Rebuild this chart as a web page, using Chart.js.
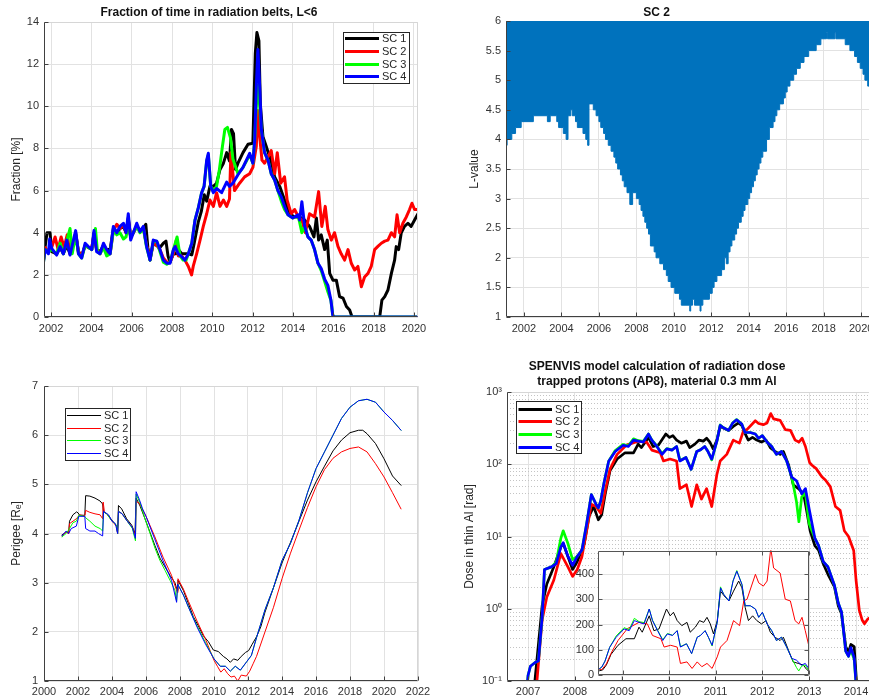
<!DOCTYPE html>
<html><head><meta charset="utf-8">
<script src="https://cdn.jsdelivr.net/npm/chart.js@4.4.1/dist/chart.umd.min.js"></script>
<style>
html,body{margin:0;padding:0;background:#fff;overflow:hidden;width:869px;height:699px;position:relative;}
canvas{position:absolute;}
</style></head><body>
<canvas id="c1" width="462" height="345" style="left:0;top:0"></canvas>
<canvas id="c2" width="514" height="345" style="left:435px;top:0"></canvas>
<canvas id="c3" width="435" height="354" style="left:0;top:345px"></canvas>
<canvas id="c4" width="516" height="354" style="left:435px;top:345px"></canvas>
<canvas id="c5" width="260" height="150" style="left:560px;top:540px"></canvas>
<script>
// ---------------- DATA ----------------
const scLabels = ['SC 1','SC 2','SC 3','SC 4'];

// Top-left: fraction of time in radiation belts, L<6  [year, %]
const fracYearTicks = [2002,2004,2006,2008,2010,2012,2014,2016,2018,2020];
const fracValueTicks = [0,2,4,6,8,10,12,14];
const fracSC1 = [[2001.6,2.5],[2001.7,3.3],[2001.8,4.0],[2001.95,4.0],[2002.03,3.1],[2002.28,3.0],[2002.45,3.3],[2002.61,3.0],[2002.78,3.4],[2002.94,3.0],[2003.11,3.5],[2003.22,4.0],[2003.36,3.1],[2003.52,2.9],[2003.69,3.4],[2003.85,3.3],[2004.02,3.2],[2004.13,4.0],[2004.26,3.2],[2004.43,3.1],[2004.6,3.4],[2004.76,3.2],[2004.93,3.2],[2005.09,4.2],[2005.26,4.0],[2005.42,4.2],[2005.59,4.3],[2005.72,4.0],[2005.83,4.7],[2005.95,3.8],[2006.08,4.0],[2006.25,4.3],[2006.41,4.1],[2006.58,4.2],[2006.7,4.4],[2006.8,3.3],[2006.91,2.7],[2007.07,3.5],[2007.24,3.4],[2007.4,3.3],[2007.57,3.5],[2007.7,3.6],[2007.8,2.9],[2007.9,2.6],[2008.07,3.0],[2008.2,3.0],[2008.31,3.2],[2008.48,3.0],[2008.64,3.0],[2008.81,3.0],[2008.98,2.95],[2009.1,3.5],[2009.2,4.0],[2009.3,4.5],[2009.45,5.0],[2009.6,5.8],[2009.72,5.5],[2009.88,6.2],[2010.05,6.2],[2010.21,6.35],[2010.38,7.0],[2010.55,7.3],[2010.71,7.8],[2010.85,7.4],[2010.95,8.9],[2011.05,8.7],[2011.15,7.0],[2011.27,7.3],[2011.52,7.8],[2011.77,8.2],[2012.01,8.25],[2012.13,12.5],[2012.21,13.5],[2012.31,13.1],[2012.38,10.1],[2012.51,8.55],[2012.67,8.1],[2012.84,7.6],[2013.09,6.65],[2013.34,6.2],[2013.58,5.55],[2013.83,4.9],[2014.08,4.75],[2014.33,4.75],[2014.58,4.6],[2014.82,4.3],[2015.04,3.8],[2015.16,4.7],[2015.27,3.65],[2015.4,3.9],[2015.57,3.2],[2015.7,3.65],[2015.82,2.07],[2015.98,1.75],[2016.15,1.75],[2016.31,0.97],[2016.48,0.9],[2016.65,0.5],[2016.81,0.33],[2016.93,0],[2018.3,0],[2018.41,0.8],[2018.55,0.97],[2018.71,1.28],[2018.88,2.07],[2019.04,2.7],[2019.12,3.34],[2019.24,3.2],[2019.37,4.0],[2019.53,4.3],[2019.7,4.45],[2019.86,4.3],[2020.03,4.6],[2020.2,4.9]];
const fracSC2 = [[2001.6,2.5],[2001.7,3.3],[2001.87,3.1],[2002.03,3.3],[2002.2,3.8],[2002.35,3.2],[2002.5,3.8],[2002.65,3.3],[2002.8,3.9],[2002.94,3.0],[2003.11,3.5],[2003.22,3.9],[2003.36,3.1],[2003.52,2.9],[2003.69,3.4],[2003.85,3.3],[2004.02,3.3],[2004.13,3.9],[2004.26,3.2],[2004.43,3.0],[2004.6,3.4],[2004.76,3.1],[2004.93,3.0],[2005.09,4.1],[2005.26,4.4],[2005.42,4.2],[2005.59,4.4],[2005.72,4.0],[2005.83,4.6],[2005.95,3.8],[2006.08,4.0],[2006.25,4.3],[2006.41,4.1],[2006.58,4.2],[2006.74,3.4],[2006.91,2.8],[2007.07,3.5],[2007.24,3.4],[2007.4,3.2],[2007.57,2.8],[2007.74,2.6],[2007.9,2.6],[2008.07,3.0],[2008.2,3.6],[2008.31,2.9],[2008.48,2.9],[2008.64,2.7],[2008.81,2.4],[2008.97,2.0],[2009.05,2.4],[2009.22,3.0],[2009.39,3.65],[2009.55,4.3],[2009.72,4.9],[2009.88,5.55],[2010.05,5.25],[2010.21,5.9],[2010.38,5.25],[2010.55,5.55],[2010.71,5.25],[2010.85,5.6],[2010.92,7.8],[2011.1,6.0],[2011.35,6.35],[2011.6,6.65],[2011.85,6.8],[2012.01,7.1],[2012.18,8.1],[2012.26,9.8],[2012.35,8.55],[2012.46,7.45],[2012.59,7.3],[2012.76,7.6],[2012.92,7.9],[2013.09,6.8],[2013.22,7.8],[2013.39,6.35],[2013.58,6.65],[2013.71,5.55],[2013.91,4.9],[2014.08,5.1],[2014.27,4.75],[2014.44,4.6],[2014.61,4.0],[2014.82,4.9],[2015.07,4.75],[2015.27,5.95],[2015.43,4.3],[2015.6,5.25],[2015.73,4.15],[2015.9,3.65],[2016.06,4.0],[2016.23,3.35],[2016.39,3.0],[2016.56,2.7],[2016.73,3.2],[2016.89,2.55],[2017.06,2.23],[2017.22,2.4],[2017.39,1.44],[2017.55,1.9],[2017.72,2.07],[2017.88,2.4],[2018.05,3.2],[2018.21,3.35],[2018.38,3.5],[2018.55,3.6],[2018.71,3.65],[2018.88,4.0],[2019.04,3.8],[2019.16,4.85],[2019.29,4.0],[2019.45,4.45],[2019.62,4.75],[2019.78,5.1],[2019.9,5.4],[2020.03,5.1],[2020.2,5.1]];
const fracSC3 = [[2001.6,2.4],[2001.7,3.2],[2001.87,3.1],[2002.03,3.2],[2002.28,3.0],[2002.45,3.5],[2002.61,3.0],[2002.78,3.6],[2002.94,4.2],[2003.05,3.0],[2003.22,3.9],[2003.36,3.0],[2003.52,2.8],[2003.69,3.4],[2003.85,3.3],[2004.02,3.2],[2004.2,4.2],[2004.3,3.1],[2004.43,3.0],[2004.6,3.3],[2004.76,2.9],[2004.93,3.0],[2005.09,4.1],[2005.26,3.9],[2005.42,4.0],[2005.59,3.7],[2005.72,3.8],[2005.83,4.4],[2005.95,3.8],[2006.08,4.0],[2006.25,4.3],[2006.41,4.0],[2006.58,4.2],[2006.74,3.3],[2006.91,2.7],[2007.07,3.6],[2007.24,3.6],[2007.4,3.1],[2007.57,2.6],[2007.74,2.5],[2007.9,2.6],[2008.07,3.2],[2008.25,3.8],[2008.4,2.9],[2008.55,2.7],[2008.7,2.7],[2008.81,3.0],[2008.98,3.5],[2009.14,4.6],[2009.31,5.2],[2009.47,5.9],[2009.59,6.2],[2009.72,7.4],[2009.8,7.7],[2009.92,6.2],[2010.05,6.0],[2010.21,6.2],[2010.35,7.0],[2010.5,8.1],[2010.62,8.9],[2010.75,9.0],[2010.9,8.5],[2011.02,7.5],[2011.27,6.8],[2011.52,7.1],[2011.69,7.4],[2011.85,7.7],[2012.01,7.3],[2012.1,8.4],[2012.18,10.0],[2012.26,11.0],[2012.35,10.0],[2012.43,8.9],[2012.59,7.8],[2012.76,7.45],[2012.92,6.8],[2013.09,6.5],[2013.25,6.0],[2013.42,5.5],[2013.58,5.1],[2013.75,4.85],[2013.99,4.7],[2014.25,4.8],[2014.33,4.5],[2014.44,4.0],[2014.58,4.3],[2014.74,3.8],[2014.9,3.65],[2015.07,3.2],[2015.24,2.55],[2015.4,2.2],[2015.57,1.7],[2015.73,1.2],[2015.88,0.8],[2015.97,0.1],[2016.03,0],[2020.2,0]];
const fracSC4 = [[2001.6,2.4],[2001.7,3.2],[2001.87,3.0],[2001.93,3.7],[2002.03,3.26],[2002.28,2.94],[2002.45,3.34],[2002.61,3.0],[2002.78,3.65],[2002.94,2.94],[2003.11,3.65],[2003.22,4.1],[2003.36,3.0],[2003.52,2.8],[2003.69,3.5],[2003.85,3.34],[2004.02,3.2],[2004.13,4.1],[2004.26,3.1],[2004.43,3.0],[2004.6,3.5],[2004.76,3.2],[2004.93,3.0],[2005.09,4.3],[2005.26,4.0],[2005.42,4.3],[2005.59,4.45],[2005.72,4.0],[2005.83,4.9],[2005.95,3.65],[2006.08,4.0],[2006.25,4.45],[2006.41,4.05],[2006.58,4.3],[2006.74,3.34],[2006.91,2.7],[2007.07,3.65],[2007.24,3.6],[2007.4,3.2],[2007.57,2.7],[2007.74,2.55],[2007.9,2.55],[2008.07,3.2],[2008.15,3.34],[2008.31,3.0],[2008.48,2.86],[2008.64,2.7],[2008.81,3.0],[2008.98,3.5],[2009.14,4.6],[2009.31,5.2],[2009.47,5.9],[2009.59,6.2],[2009.72,7.45],[2009.8,7.77],[2009.92,6.2],[2010.05,5.9],[2010.21,6.1],[2010.46,5.9],[2010.71,6.4],[2010.85,6.2],[2011.02,6.35],[2011.27,6.75],[2011.52,7.1],[2011.69,7.45],[2011.85,7.77],[2012.01,7.3],[2012.1,8.4],[2012.18,10.9],[2012.26,12.7],[2012.35,10.9],[2012.43,8.9],[2012.59,7.8],[2012.76,7.45],[2012.92,6.8],[2013.09,6.5],[2013.25,6.0],[2013.42,5.7],[2013.58,5.25],[2013.75,4.85],[2013.99,4.7],[2014.25,4.85],[2014.33,4.6],[2014.44,5.47],[2014.58,4.3],[2014.74,3.8],[2014.9,3.65],[2015.07,3.2],[2015.24,2.55],[2015.4,2.3],[2015.57,1.8],[2015.73,1.5],[2015.88,0.8],[2015.97,0.1],[2016.03,0],[2020.2,0]];

// Top-right: SC 2 lowest L-value reached  [year, L]
const lvalYearTicks = [2002,2004,2006,2008,2010,2012,2014,2016,2018,2020];
const lvalTicks = [1,1.5,2,2.5,3,3.5,4,4.5,5,5.5,6];
const lvalTickLabels = ['1','1.5','2','2.5','3','3.5','4','4.5','5','5.5','6'];
const sc2MinL = [[2001.0,3.9],[2001.1,4.0],[2001.35,4.1],[2001.55,4.2],[2001.85,4.3],[2002.5,4.4],[2003.25,4.3],[2003.4,4.4],[2003.75,4.3],[2003.85,4.2],[2004.1,4.1],[2004.25,4.0],[2004.35,4.4],[2004.5,4.5],[2004.58,4.4],[2004.75,4.3],[2004.85,4.2],[2005.15,4.1],[2005.3,4.0],[2005.4,3.9],[2005.47,4.6],[2005.7,4.5],[2005.85,4.4],[2006.0,4.3],[2006.1,4.2],[2006.25,4.1],[2006.35,4.0],[2006.5,3.9],[2006.65,3.8],[2006.8,3.7],[2006.9,3.6],[2007.0,3.5],[2007.15,3.4],[2007.25,3.3],[2007.35,3.2],[2007.5,3.1],[2007.65,2.9],[2007.8,3.1],[2008.0,3.0],[2008.15,2.9],[2008.25,2.8],[2008.35,2.7],[2008.45,2.6],[2008.55,2.5],[2008.65,2.4],[2008.75,2.2],[2008.95,2.1],[2009.05,2.0],[2009.25,1.9],[2009.45,1.8],[2009.6,1.7],[2009.7,1.6],[2009.85,1.5],[2010.05,1.4],[2010.3,1.3],[2010.4,1.2],[2010.85,1.1],[2010.9,1.2],[2011.0,1.3],[2011.1,1.2],[2011.4,1.1],[2011.45,1.2],[2011.55,1.3],[2011.9,1.4],[2012.05,1.5],[2012.15,1.6],[2012.3,1.7],[2012.55,1.8],[2012.7,2.0],[2012.8,1.9],[2012.9,2.1],[2013.0,2.2],[2013.1,2.3],[2013.25,2.4],[2013.35,2.5],[2013.45,2.6],[2013.6,2.7],[2013.7,2.8],[2013.8,2.9],[2013.95,3.0],[2014.05,3.1],[2014.15,3.2],[2014.25,3.3],[2014.35,3.4],[2014.45,3.5],[2014.55,3.6],[2014.65,3.7],[2014.75,3.8],[2014.95,4.0],[2015.1,4.2],[2015.3,4.3],[2015.4,4.4],[2015.5,4.5],[2015.65,4.6],[2015.85,4.7],[2015.95,4.8],[2016.05,4.9],[2016.2,5.0],[2016.4,5.1],[2016.55,5.2],[2016.75,5.3],[2016.95,5.4],[2017.2,5.5],[2017.6,5.6],[2017.85,5.7],[2018.15,5.8],[2018.2,5.7],[2018.6,5.8],[2018.65,5.7],[2019.15,5.6],[2019.4,5.5],[2019.65,5.4],[2019.8,5.3],[2019.95,5.2],[2020.1,5.1],[2020.2,5.0],[2020.35,4.9],[2020.5,4.8],[2020.7,4.7],[2020.95,4.6]];

// Bottom-left: perigee [year, Re]
const perYearTicks = [2000,2002,2004,2006,2008,2010,2012,2014,2016,2018,2020,2022];
const perTicks = [1,2,3,4,5,6,7];
const perSC1 = [[2001.05,3.97],[2001.33,4.03],[2001.45,4.0],[2001.5,4.25],[2001.7,4.38],[2001.92,4.44],[2002.0,4.42],[2002.1,4.37],[2002.4,4.37],[2002.45,4.77],[2002.7,4.76],[2003.0,4.72],[2003.3,4.66],[2003.45,4.6],[2003.5,4.44],[2003.7,4.4],[2004.0,4.27],[2004.27,4.15],[2004.33,4.0],[2004.38,4.57],[2004.57,4.5],[2004.86,4.3],[2005.16,4.17],[2005.35,4.0],[2005.42,4.72],[2005.65,4.56],[2005.94,4.3],[2006.24,4.02],[2006.53,3.75],[2006.82,3.5],[2007.12,3.32],[2007.41,3.15],[2007.7,3.0],[2007.84,2.84],[2007.88,3.05],[2008.2,2.84],[2008.49,2.58],[2008.78,2.31],[2009.08,2.12],[2009.37,1.92],[2009.67,1.8],[2009.96,1.63],[2010.25,1.6],[2010.55,1.5],[2010.76,1.45],[2010.96,1.38],[2011.15,1.45],[2011.4,1.42],[2011.6,1.5],[2011.85,1.58],[2012.04,1.62],[2012.25,1.75],[2012.5,1.9],[2012.75,2.1],[2013.0,2.4],[2013.5,2.9],[2014.0,3.4],[2014.5,3.82],[2015.0,4.25],[2015.5,4.68],[2016.0,5.05],[2016.5,5.37],[2017.0,5.68],[2017.5,5.9],[2018.0,6.05],[2018.5,6.1],[2018.75,6.1],[2019.0,6.03],[2019.5,5.83],[2020.0,5.52],[2020.5,5.17],[2021.0,4.98]];
const perSC2 = [[2001.05,3.95],[2001.3,4.03],[2001.45,4.0],[2001.5,4.2],[2001.9,4.3],[2002.1,4.38],[2002.4,4.36],[2002.45,4.47],[2002.7,4.43],[2003.0,4.4],[2003.3,4.38],[2003.45,4.3],[2003.48,4.64],[2003.55,4.45],[2003.7,4.4],[2004.0,4.25],[2004.27,4.15],[2004.33,4.0],[2004.38,4.45],[2004.6,4.4],[2004.9,4.25],[2005.2,4.12],[2005.38,3.95],[2005.42,4.65],[2005.6,4.62],[2006.0,4.35],[2006.5,3.95],[2007.0,3.52],[2007.5,3.15],[2007.84,2.8],[2007.88,3.08],[2008.2,2.87],[2008.5,2.62],[2009.0,2.22],[2009.5,1.85],[2010.0,1.42],[2010.2,1.3],[2010.4,1.18],[2010.6,1.25],[2010.8,1.15],[2011.0,1.08],[2011.2,1.1],[2011.4,1.0],[2011.6,1.12],[2011.9,1.1],[2012.1,1.2],[2012.3,1.35],[2012.5,1.5],[2013.0,2.0],[2013.5,2.5],[2014.0,3.08],[2014.5,3.6],[2015.0,4.07],[2015.5,4.53],[2016.0,4.95],[2016.5,5.3],[2017.0,5.53],[2017.5,5.66],[2018.0,5.73],[2018.5,5.76],[2019.0,5.66],[2019.5,5.42],[2020.0,5.15],[2020.5,4.83],[2021.0,4.5]];
const perSC3 = [[2001.05,3.93],[2001.3,4.0],[2001.5,4.1],[2001.7,4.22],[2001.9,4.25],[2002.05,4.37],[2002.4,4.35],[2002.45,4.32],[2002.7,4.25],[2003.0,4.15],[2003.3,4.1],[2003.45,4.05],[2003.5,4.44],[2003.7,4.4],[2004.0,4.25],[2004.27,4.17],[2004.33,4.0],[2004.38,4.45],[2004.6,4.4],[2004.9,4.25],[2005.2,4.1],[2005.38,3.85],[2005.42,4.8],[2005.65,4.62],[2005.94,4.3],[2006.24,4.0],[2006.53,3.7],[2006.82,3.45],[2007.12,3.25],[2007.41,3.05],[2007.7,2.85],[2007.8,2.62],[2007.86,2.97],[2008.2,2.75],[2008.5,2.5],[2009.0,2.12],[2009.5,1.78],[2010.0,1.45],[2010.37,1.3],[2010.67,1.3],[2010.96,1.2],[2011.25,1.3],[2011.55,1.22],[2011.94,1.4],[2012.2,1.52],[2012.5,1.88],[2013.0,2.45],[2013.5,2.9],[2014.0,3.45],[2014.5,3.8],[2015.0,4.27],[2015.5,4.83],[2016.0,5.32],[2016.5,5.66],[2017.0,6.0],[2017.5,6.34],[2018.0,6.57],[2018.5,6.7],[2019.0,6.73],[2019.5,6.67],[2020.0,6.47],[2020.5,6.3],[2021.0,6.1]];
const perSC4 = [[2001.05,3.95],[2001.3,4.05],[2001.45,4.0],[2001.6,4.1],[2001.9,4.15],[2002.05,4.35],[2002.4,4.35],[2002.45,4.1],[2002.7,4.05],[2003.0,4.05],[2003.2,4.0],[2003.45,3.95],[2003.5,4.45],[2003.8,4.38],[2004.0,4.25],[2004.2,4.2],[2004.33,4.0],[2004.38,4.45],[2004.6,4.4],[2004.9,4.25],[2005.2,4.12],[2005.38,3.9],[2005.42,4.85],[2005.6,4.7],[2005.8,4.5],[2006.0,4.35],[2006.5,3.9],[2007.0,3.45],[2007.5,3.05],[2007.8,2.6],[2007.86,2.97],[2008.2,2.75],[2008.5,2.5],[2009.0,2.1],[2009.5,1.75],[2010.0,1.45],[2010.37,1.3],[2010.67,1.3],[2010.96,1.2],[2011.25,1.3],[2011.55,1.22],[2011.94,1.4],[2012.2,1.52],[2012.5,1.88],[2013.0,2.45],[2013.5,2.9],[2014.0,3.45],[2014.5,3.8],[2015.0,4.27],[2015.5,4.83],[2016.0,5.32],[2016.5,5.66],[2017.0,6.0],[2017.5,6.34],[2018.0,6.57],[2018.5,6.7],[2019.0,6.73],[2019.5,6.67],[2020.0,6.47],[2020.5,6.3],[2021.0,6.1]];

// Bottom-right: SPENVIS dose [year, rad]
const doseYearTicks = [2007,2008,2009,2010,2011,2012,2013,2014];
const doseTicks = [0.1,1,10,100,1000];
const doseTickLabels = ['10\u207B\u00B9','10\u2070','10\u00B9','10\u00B2','10\u00B3'];
const insetTicks = [0,100,200,300,400];
const insetYearTicks = [2009,2010,2011,2012,2013];
const doseSC1 = [[2007.1,0.05],[2007.3,1.1],[2007.4,2.2],[2007.55,3.8],[2007.7,7.2],[2007.75,8.0],[2007.85,5.3],[2007.95,3.5],[2008.05,4.5],[2008.2,8],[2008.3,19],[2008.4,26],[2008.5,17],[2008.57,20],[2008.65,40],[2008.75,82],[2008.9,118],[2009.07,144],[2009.25,144],[2009.35,190],[2009.42,170],[2009.57,235],[2009.67,176],[2009.78,183],[2009.94,262],[2010.02,235],[2010.09,249],[2010.17,216],[2010.27,196],[2010.38,209],[2010.45,170],[2010.56,190],[2010.65,216],[2010.74,209],[2010.81,229],[2010.88,203],[2010.95,163],[2011.03,216],[2011.1,333],[2011.18,314],[2011.28,294],[2011.38,333],[2011.49,373],[2011.56,346],[2011.63,268],[2011.7,216],[2011.79,235],[2011.88,216],[2011.98,203],[2012.08,216],[2012.17,170],[2012.27,150],[2012.38,137],[2012.45,150],[2012.56,98],[2012.66,52],[2012.77,46],[2012.88,39],[2012.95,22],[2013.02,12],[2013.12,7.5],[2013.2,6.5],[2013.3,4.2],[2013.4,3.0],[2013.54,2.0],[2013.62,1.1],[2013.69,0.85],[2013.78,0.3],[2013.84,0.25],[2013.89,0.32],[2013.96,0.3],[2014.04,0.05]];
const doseSC2 = [[2007.15,0.05],[2007.3,0.7],[2007.4,1.45],[2007.55,2.5],[2007.7,5.8],[2007.85,3.8],[2007.95,2.8],[2008.05,3.5],[2008.15,5.3],[2008.25,12],[2008.35,28],[2008.45,26],[2008.55,21],[2008.65,44],[2008.75,86],[2008.9,137],[2009.1,184],[2009.35,209],[2009.53,203],[2009.64,157],[2009.82,144],[2009.89,111],[2010.03,118],[2010.17,111],[2010.24,46],[2010.38,52],[2010.49,26],[2010.6,52],[2010.7,33],[2010.81,46],[2010.92,26],[2011.03,72],[2011.1,111],[2011.24,137],[2011.38,216],[2011.51,196],[2011.6,294],[2011.67,301],[2011.85,400],[2011.92,366],[2012.02,353],[2012.1,373],[2012.18,503],[2012.24,425],[2012.38,405],[2012.49,301],[2012.6,294],[2012.7,216],[2012.78,203],[2012.85,229],[2012.92,176],[2013.01,105],[2013.06,97],[2013.15,87],[2013.27,67],[2013.35,60],[2013.45,49],[2013.56,26],[2013.66,23],[2013.75,12],[2013.84,10],[2013.95,6.4],[2014.0,2.5],[2014.07,0.95],[2014.13,0.7],[2014.18,0.62],[2014.25,0.72],[2014.35,0.8]];
const doseSC3 = [[2006.95,0.05],[2007.0,0.12],[2007.05,0.16],[2007.15,0.18],[2007.22,0.19],[2007.3,0.77],[2007.35,3.5],[2007.5,3.8],[2007.6,4.4],[2007.7,9.5],[2007.75,12],[2007.85,8],[2007.95,4.8],[2008.05,5.3],[2008.15,6.5],[2008.25,15],[2008.35,38],[2008.45,28],[2008.5,25],[2008.55,31],[2008.62,55],[2008.72,110],[2008.86,155],[2009.03,188],[2009.14,180],[2009.25,225],[2009.35,212],[2009.46,208],[2009.57,262],[2009.64,218],[2009.75,178],[2009.86,140],[2009.96,165],[2010.07,158],[2010.17,176],[2010.24,113],[2010.37,124],[2010.48,85],[2010.6,150],[2010.67,157],[2010.77,176],[2010.84,150],[2010.92,115],[2011.03,209],[2011.1,350],[2011.17,320],[2011.28,294],[2011.37,375],[2011.45,415],[2011.56,360],[2011.63,275],[2011.74,275],[2011.85,262],[2011.92,229],[2012.0,249],[2012.1,203],[2012.2,176],[2012.3,137],[2012.41,150],[2012.52,111],[2012.63,66],[2012.73,30],[2012.78,16],[2012.84,35],[2012.92,40],[2013.0,15],[2013.12,9.5],[2013.2,7.5],[2013.3,4.5],[2013.4,3.8],[2013.54,2.1],[2013.62,1.2],[2013.69,0.9],[2013.78,0.26],[2013.84,0.22],[2013.89,0.27],[2013.96,0.2],[2014.03,0.05]];
const doseSC4 = [[2006.95,0.05],[2007.0,0.12],[2007.05,0.16],[2007.15,0.18],[2007.22,0.19],[2007.3,0.77],[2007.35,3.5],[2007.5,3.8],[2007.6,4.2],[2007.7,7.2],[2007.75,8.2],[2007.85,5.3],[2007.95,4.0],[2008.05,5.3],[2008.15,6.5],[2008.25,15],[2008.35,38],[2008.45,28],[2008.5,25],[2008.55,31],[2008.62,55],[2008.72,110],[2008.86,150],[2009.03,183],[2009.14,176],[2009.25,216],[2009.35,209],[2009.46,203],[2009.57,262],[2009.64,216],[2009.75,176],[2009.86,137],[2009.96,163],[2010.07,157],[2010.17,176],[2010.24,111],[2010.37,124],[2010.48,85],[2010.6,150],[2010.67,157],[2010.77,176],[2010.84,150],[2010.92,118],[2011.03,209],[2011.1,346],[2011.17,320],[2011.28,294],[2011.37,373],[2011.45,412],[2011.56,360],[2011.63,275],[2011.74,275],[2011.85,262],[2011.92,229],[2012.0,249],[2012.1,203],[2012.2,176],[2012.3,137],[2012.41,150],[2012.52,111],[2012.63,66],[2012.73,59],[2012.84,39],[2012.92,46],[2013.0,24],[2013.12,9.5],[2013.2,7.5],[2013.3,4.5],[2013.4,3.8],[2013.54,2.1],[2013.62,1.2],[2013.69,0.9],[2013.78,0.26],[2013.84,0.22],[2013.89,0.29],[2013.96,0.21],[2014.03,0.05]];

// ---------------- STYLE / HELPERS ----------------
const scColors = ['#000000','#ff0000','#00ff00','#0000ff'];
const FONT = "'Liberation Sans', Arial, Helvetica, sans-serif";
const GRID = '#e2e2e2';
const AXIS = '#404040';
Chart.defaults.font.family = FONT;
Chart.defaults.font.size = 11;
Chart.defaults.color = '#333333';

const toXY = a => a.map(p => ({x: p[0], y: p[1]}));
function lineSets(series, width) {
  return series.map((s, i) => ({
    label: scLabels[i], data: toXY(s), borderColor: scColors[i], backgroundColor: scColors[i],
    borderWidth: width, pointRadius: 0, tension: 0, fill: false, order: 4 - i,
    borderJoinStyle: 'round', borderCapStyle: 'round'
  }));
}
function xAxis(min, max, ticks, pad, h, show) {
  return { type: 'linear', min, max,
    afterBuildTicks: s => { s.ticks = ticks.map(v => ({value: v})); },
    afterFit: s => { s.height = h; },
    ticks: { display: show !== false, padding: pad, autoSkip: false, maxRotation: 0, callback: v => String(v), font: {size: 11} },
    grid: { color: GRID, drawTicks: false }, border: { display: false } };
}
function yAxis(o) {
  return { type: o.type || 'linear', min: o.min, max: o.max,
    afterBuildTicks: s => { s.ticks = o.ticks.map(v => ({value: v})); },
    afterFit: s => { s.width = o.w; },
    ticks: { padding: o.pad, autoSkip: false, callback: (v, i) => o.labels ? o.labels[i] : String(v), font: {size: o.fs || 11} },
    grid: { color: GRID, drawTicks: false }, border: { display: false },
    title: { display: !!o.title, text: o.title, font: {size: 12}, color: '#262626', padding: {top: o.tpad || 0, bottom: 0} } };
}
const framePlugin = {
  id: 'frame',
  beforeDraw(chart, args, o) {
    if (o && o.bg) { const a = chart.chartArea, c = chart.ctx; c.save(); c.fillStyle = o.bg; c.fillRect(a.left, a.top, a.right - a.left, a.bottom - a.top); c.restore(); }
  },
  afterDatasetsDraw(chart, args, o) {
    const c = chart.ctx, a = chart.chartArea, xs = chart.scales.x, ys = chart.scales.y;
    const L = Math.round(a.left) + 0.5, R = Math.round(a.right) - 0.5, T = Math.round(a.top) + 0.5, B = Math.round(a.bottom) - 0.5;
    c.save(); c.lineWidth = 1;
    if (!o.box && !o.noEdge) { c.strokeStyle = '#d6d6d6'; c.beginPath(); c.moveTo(L, T); c.lineTo(R, T); c.lineTo(R, B); c.stroke(); }
    c.strokeStyle = o.box ? '#555555' : AXIS; c.beginPath();
    if (o.box) { c.rect(L, T, R - L, B - T); } else { c.moveTo(L, T); c.lineTo(L, B); c.lineTo(R, B); }
    const tl = 4;
    xs.ticks.forEach(t => { const p = Math.round(xs.getPixelForValue(t.value)) + 0.5; if (p < a.left - 1 || p > a.right + 1) return; c.moveTo(p, B); c.lineTo(p, B - tl); if (o.box) { c.moveTo(p, T); c.lineTo(p, T + tl); } });
    ys.ticks.forEach(t => { const p = Math.round(ys.getPixelForValue(t.value)) + 0.5; c.moveTo(L, p); c.lineTo(L + tl, p); if (o.box) { c.moveTo(R, p); c.lineTo(R - tl, p); } });
    c.stroke(); c.restore();
  }
};
const legendPlugin = {
  id: 'boxLegend',
  afterDraw(chart, args, o) {
    if (!o || !o.box) return;
    const c = chart.ctx, [x, y, w, h] = o.box;
    c.save();
    c.fillStyle = '#ffffff'; c.fillRect(x, y, w, h);
    c.strokeStyle = '#262626'; c.lineWidth = 1; c.strokeRect(x + 0.5, y + 0.5, w, h);
    chart.data.datasets.forEach((ds, i) => {
      const yy = Math.round(y + o.first + i * o.step) + 0.5;
      c.strokeStyle = ds.borderColor; c.lineWidth = o.lw; c.lineCap = 'butt';
      c.beginPath(); c.moveTo(x + o.l0, yy); c.lineTo(x + o.l1, yy); c.stroke();
      c.fillStyle = '#262626'; c.font = '11px ' + FONT; c.textBaseline = 'middle'; c.textAlign = 'left';
      c.fillText(ds.label, x + o.tx, yy);
    });
    c.restore();
  }
};
const logMinorPlugin = {
  id: 'logMinor',
  beforeDatasetsDraw(chart, args, o) {
    if (!o || !o.on) return;
    const ys = chart.scales.y, a = chart.chartArea, c = chart.ctx;
    c.save(); c.strokeStyle = '#c4c4c4'; c.lineWidth = 1; c.setLineDash([1, 2]); c.beginPath();
    for (let k = -1; k < 3; k++) for (let m = 2; m < 10; m++) {
      const p = Math.round(ys.getPixelForValue(m * Math.pow(10, k))) + 0.5;
      c.moveTo(a.left, p); c.lineTo(a.right, p);
    }
    c.stroke(); c.restore();
  }
};
const basePlugins = (extra) => Object.assign({ legend: {display: false}, tooltip: {enabled: false} }, extra);
const allPlugins = [framePlugin, legendPlugin, logMinorPlugin];

// ---------------- CHART 1: fraction ----------------
new Chart(document.getElementById('c1'), {
  type: 'line',
  data: { datasets: lineSets([fracSC1, fracSC2, fracSC3, fracSC4], 3) },
  options: { responsive: false, animation: false,
    layout: { padding: { left: 0, right: 44, top: 0, bottom: 0 } },
    plugins: basePlugins({
      title: { display: true, text: 'Fraction of time in radiation belts, L<6', font: {size: 12, weight: 'bold'}, color: '#111', padding: {top: 5, bottom: 2.6} },
      frame: {}, boxLegend: { box: [343, 32, 66, 51], first: 6, step: 12.8, l0: 2, l1: 36, tx: 39, lw: 3 }, logMinor: {}
    }),
    scales: { x: xAxis(2001.65, 2020.2, fracYearTicks, 5.4, 28),
      y: yAxis({min: 0, max: 14, ticks: fracValueTicks, pad: 5, w: 44, title: 'Fraction [%]', tpad: 9.8}) } },
  plugins: allPlugins
});

// ---------------- CHART 2: L-value ----------------
new Chart(document.getElementById('c2'), {
  type: 'line',
  data: { datasets: [{ label: 'SC 2', data: toXY(sc2MinL), stepped: 'before', fill: 'end',
    backgroundColor: '#0072BD', borderColor: '#0072BD', borderWidth: 1, pointRadius: 0 }] },
  options: { responsive: false, animation: false,
    layout: { padding: { left: 0, right: 71, top: 0, bottom: 0 } },
    plugins: basePlugins({
      title: { display: true, text: 'SC 2', font: {size: 12, weight: 'bold'}, color: '#111', padding: {top: 5, bottom: 1.6} },
      frame: { noEdge: true }, boxLegend: {}, logMinor: {}
    }),
    scales: { x: xAxis(2001.04, 2020.9, lvalYearTicks, 5.4, 28),
      y: yAxis({min: 1, max: 6, ticks: lvalTicks, labels: lvalTickLabels, pad: 5, w: 71, title: 'L-value', tpad: 32.8}) } },
  plugins: allPlugins
});

// ---------------- CHART 3: perigee ----------------
new Chart(document.getElementById('c3'), {
  type: 'line',
  data: { datasets: lineSets([perSC1, perSC2, perSC3, perSC4], 1) },
  options: { responsive: false, animation: false,
    layout: { padding: { left: 0, right: 17, top: 41, bottom: 0 } },
    plugins: basePlugins({
      frame: {}, boxLegend: { box: [65, 63, 65, 52], first: 7, step: 12.7, l0: 2, l1: 36, tx: 39, lw: 1 }, logMinor: {}
    }),
    scales: { x: xAxis(2000, 2022, perYearTicks, 4.4, 18),
      y: yAxis({min: 1, max: 7, ticks: perTicks, pad: 6, w: 44, title: 'Perigee [R\u2091]', tpad: 9.8}) } },
  plugins: allPlugins
});

// ---------------- CHART 4: dose (log) ----------------
new Chart(document.getElementById('c4'), {
  type: 'line',
  data: { datasets: lineSets([doseSC1, doseSC2, doseSC3, doseSC4], 2.7) },
  options: { responsive: false, animation: false,
    layout: { padding: { left: 0, right: 72, top: 0, bottom: 0 } },
    plugins: basePlugins({
      title: { display: true, text: ['SPENVIS model calculation of radiation dose', 'trapped protons (AP8), material 0.3 mm Al'],
        font: {size: 12, weight: 'bold', lineHeight: 1.25}, color: '#111', padding: {top: 14.5, bottom: 2.5} },
      frame: {}, boxLegend: { box: [81, 56, 65, 52], first: 7.5, step: 12.7, l0: 2.5, l1: 36, tx: 39, lw: 3 }, logMinor: { on: true }
    }),
    scales: { x: xAxis(2006.55, 2014.49, doseYearTicks, 4.7, 18),
      y: yAxis({type: 'logarithmic', min: 0.1, max: 1000, ticks: doseTicks, labels: doseTickLabels, pad: 5, w: 72, title: 'Dose in thin Al [rad]', tpad: 27.8}) } },
  plugins: allPlugins
});

// ---------------- CHART 5: inset (linear) ----------------
new Chart(document.getElementById('c5'), {
  type: 'line',
  data: { datasets: lineSets([doseSC1, doseSC2, doseSC3, doseSC4], 1) },
  options: { responsive: false, animation: false,
    layout: { padding: { left: 0, right: 11, top: 9, bottom: 0 } },
    plugins: basePlugins({ frame: { box: true, bg: '#ffffff' }, boxLegend: {}, logMinor: {} }),
    scales: { x: xAxis(2008.47, 2013.0, insetYearTicks, 4, 15, false),
      y: yAxis({min: 0, max: 494, ticks: insetTicks, pad: 4, w: 38}) } },
  plugins: allPlugins
});
</script>
</body></html>
